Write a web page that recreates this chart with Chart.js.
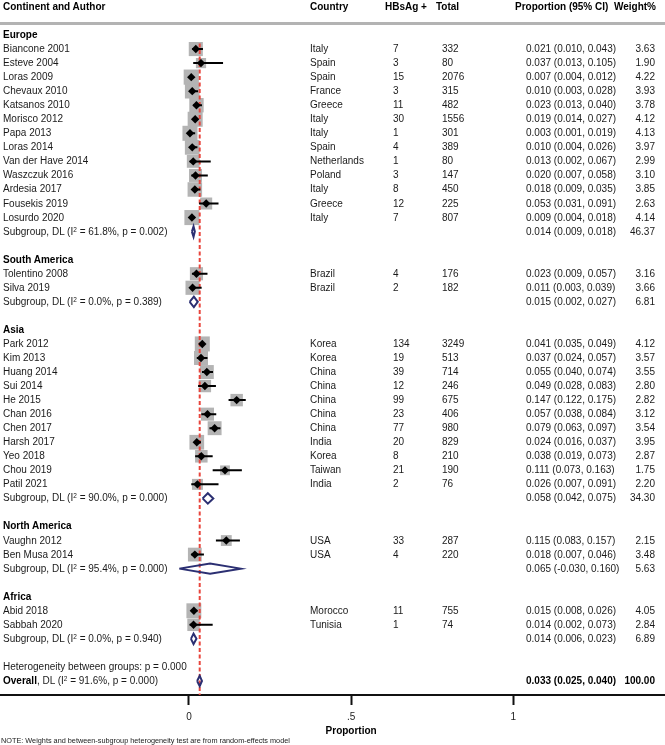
<!DOCTYPE html>
<html>
<head>
<meta charset="utf-8">
<script src="https://cdn.jsdelivr.net/npm/chart.js@4"></script>
<style>
body { margin: 0; background: #fff; }
#box {
	position: relative; width: 665px; height: 745px; overflow: hidden;
	font-family: "Liberation Sans", Arial, Helvetica, sans-serif;
	font-size: 10px; color: #1a1a1a;
}
#chart { position: absolute; left: 0; top: 0; }
#text { position: absolute; left: 0; top: 0; width: 665px; height: 745px; }
.cell { position: absolute; height: 14px; line-height: 14px; white-space: nowrap; }
.bold { font-weight: bold; color: #000; }
sup { font-size: 6.5px; vertical-align: 3px; line-height: 0; }
#rule { position: absolute; left: 0; top: 22px; width: 665px; height: 3px; background: #b3b3b3; }
#note { position: absolute; left: 1px; top: 736px; font-size: 7.3px; line-height: 9px; white-space: nowrap; }
</style>
</head>
<body>
<div id="box">
	<canvas id="chart" width="665" height="745"></canvas>
	<div id="rule"></div>
	<div id="text"></div>
	<div id="note">NOTE: Weights and between-subgroup heterogeneity test are from random-effects model</div>
</div>
<script>
/*
 * Studies, in the order they are listed, with the continent each belongs to.
 */
const groupNames = ['Europe', 'South America', 'Asia', 'North America', 'Africa'];
const studyGroup = [
	0, 0, 0, 0, 0, 0, 0, 0, 0, 0, 0, 0, 0,
	1, 1,
	2, 2, 2, 2, 2, 2, 2, 2, 2, 2, 2,
	3, 3,
	4, 4,
];
const authors = [
	'Biancone 2001', 'Esteve 2004', 'Loras 2009', 'Chevaux 2010',
	'Katsanos 2010', 'Morisco 2012', 'Papa 2013', 'Loras 2014',
	'Van der Have 2014', 'Waszczuk 2016', 'Ardesia 2017', 'Fousekis 2019',
	'Losurdo 2020',
	'Tolentino 2008', 'Silva 2019',
	'Park 2012', 'Kim 2013', 'Huang 2014', 'Sui 2014', 'He 2015',
	'Chan 2016', 'Chen 2017', 'Harsh 2017', 'Yeo 2018', 'Chou 2019',
	'Patil 2021',
	'Vaughn 2012', 'Ben Musa 2014',
	'Abid 2018', 'Sabbah 2020',
];
const countries = [
	'Italy', 'Spain', 'Spain', 'France', 'Greece', 'Italy', 'Italy', 'Spain',
	'Netherlands', 'Poland', 'Italy', 'Greece', 'Italy',
	'Brazil', 'Brazil',
	'Korea', 'Korea', 'China', 'China', 'China', 'China', 'China', 'India',
	'Korea', 'Taiwan', 'India',
	'USA', 'USA',
	'Morocco', 'Tunisia',
];
const positives = [
	7, 3, 15, 3, 11, 30, 1, 4, 1, 3, 8, 12, 7,
	4, 2,
	134, 19, 39, 12, 99, 23, 77, 20, 8, 21, 2,
	33, 4,
	11, 1,
];
const totals = [
	332, 80, 2076, 315, 482, 1556, 301, 389, 80, 147, 450, 225, 807,
	176, 182,
	3249, 513, 714, 246, 675, 406, 980, 829, 210, 190, 76,
	287, 220,
	755, 74,
];
const estimates = [
	0.021, 0.037, 0.007, 0.010, 0.023, 0.019, 0.003, 0.010, 0.013, 0.020,
	0.018, 0.053, 0.009,
	0.023, 0.011,
	0.041, 0.037, 0.055, 0.049, 0.147, 0.057, 0.079, 0.024, 0.038, 0.111,
	0.026,
	0.115, 0.018,
	0.015, 0.014,
];
const lower = [
	0.010, 0.013, 0.004, 0.003, 0.013, 0.014, 0.001, 0.004, 0.002, 0.007,
	0.009, 0.031, 0.004,
	0.009, 0.003,
	0.035, 0.024, 0.040, 0.028, 0.122, 0.038, 0.063, 0.016, 0.019, 0.073,
	0.007,
	0.083, 0.007,
	0.008, 0.002,
];
const upper = [
	0.043, 0.105, 0.012, 0.028, 0.040, 0.027, 0.019, 0.026, 0.067, 0.058,
	0.035, 0.091, 0.018,
	0.057, 0.039,
	0.049, 0.057, 0.074, 0.083, 0.175, 0.084, 0.097, 0.037, 0.073, 0.163,
	0.091,
	0.157, 0.046,
	0.026, 0.073,
];
const weights = [
	3.63, 1.90, 4.22, 3.93, 3.78, 4.12, 4.13, 3.97, 2.99, 3.10, 3.85, 2.63,
	4.14,
	3.16, 3.66,
	4.12, 3.57, 3.55, 2.80, 2.82, 3.12, 3.54, 3.95, 2.87, 1.75, 2.20,
	2.15, 3.48,
	4.05, 2.84,
];

/* Pooled estimates per continent and overall. */

const subgroupI2 = ['61.8', '0.0', '90.0', '95.4', '0.0'];
const subgroupP = ['0.002', '0.389', '0.000', '0.000', '0.940'];
const subgroupEst = [0.014, 0.015, 0.058, 0.065, 0.014];
const subgroupLo = [0.009, 0.002, 0.042, -0.030, 0.006];
const subgroupHi = [0.018, 0.027, 0.075, 0.160, 0.023];
const subgroupWeight = [46.37, 6.81, 34.30, 5.63, 6.89];

const overallEst = 0.033;
const overallLo = 0.025;
const overallHi = 0.040;
const overallWeight = 100.00;
const overallI2 = '91.6';
const overallP = '0.000';
const betweenP = '0.000';

const tickValues = [0, 0.5, 1];
const tickLabels = ['0', '.5', '1'];

const NAVY = '#2b2f72';
const DIAMOND_HALF = 0.37;	/* half height of a pooled diamond, in rows */
const BOX_SCALE = 7.4;		/* box side per sqrt(weight), pixels */

/**
 * Give every line of the plot a row number, top to bottom, leaving a blank
 * row after each continent.
 */
function layoutRows()
{
	const rows = [];
	let r = 0;
	groupNames.forEach((name, g) => {
		rows.push({ kind: 'group', g: g, r: r++ });
		studyGroup.forEach((sg, i) => {
			if (sg === g)
				rows.push({ kind: 'study', i: i, r: r++ });
		});
		rows.push({ kind: 'subgroup', g: g, r: r++ });
		r++;
	});
	rows.push({ kind: 'between', r: r++ });
	rows.push({ kind: 'overall', r: r++ });
	return rows;
}

function ci(est, lo, hi)
{
	return est.toFixed(3) + ' (' + lo.toFixed(3) + ', ' + hi.toFixed(3) + ')';
}

function diamond(pts, est, lo, hi, r)
{
	pts.push({ x: lo, y: r }, { x: est, y: r - DIAMOND_HALF },
		{ x: hi, y: r }, { x: est, y: r + DIAMOND_HALF },
		{ x: lo, y: r }, { x: null, y: null });
}

function cell(parent, html, left, top, cls, right)
{
	const el = document.createElement('div');
	el.className = 'cell' + (cls ? ' ' + cls : '');
	el.innerHTML = html;
	el.style.top = top + 'px';
	if (right)
		el.style.right = (665 - left) + 'px';
	else
		el.style.left = left + 'px';
	parent.append(el);
}

const rows = layoutRows();
const lastRow = rows[rows.length - 1].r;

/* Study boxes, markers and confidence intervals. */

const boxes = [];
const boxRadius = [];
const whiskers = [];
const diamonds = [];
for (const row of rows) {
	if (row.kind === 'study') {
		const i = row.i;
		boxes.push({ x: estimates[i], y: row.r });
		boxRadius.push(BOX_SCALE * Math.sqrt(weights[i]) / Math.SQRT2);
		whiskers.push({ x: lower[i], y: row.r }, { x: upper[i], y: row.r },
			{ x: null, y: null });
	} else if (row.kind === 'subgroup')
		diamond(diamonds, subgroupEst[row.g], subgroupLo[row.g],
			subgroupHi[row.g], row.r);
	else if (row.kind === 'overall')
		diamond(diamonds, overallEst, overallLo, overallHi, row.r);
}

const chart = new Chart(document.getElementById('chart'), {
	type: 'scatter',
	data: {
		datasets: [{
			data: boxes,
			pointStyle: 'rect',
			pointRadius: boxRadius,
			backgroundColor: '#b4b4b4',
			borderWidth: 0,
			order: 5,
		}, {
			data: [{ x: overallEst, y: 0.6 }, { x: overallEst, y: lastRow + 1 }],
			showLine: true,
			pointRadius: 0,
			borderColor: '#e8453c',
			borderWidth: 2,
			borderDash: [4, 2.5],
			order: 4,
		}, {
			data: whiskers,
			showLine: true,
			spanGaps: false,
			pointRadius: 0,
			borderColor: '#000',
			borderWidth: 2,
			order: 3,
		}, {
			data: boxes,
			pointStyle: 'rectRot',
			pointRadius: 4.2,
			backgroundColor: '#000',
			borderWidth: 0,
			order: 2,
		}, {
			data: diamonds,
			showLine: true,
			spanGaps: false,
			pointRadius: 0,
			borderColor: NAVY,
			borderWidth: 2,
			order: 1,
		}],
	},
	options: {
		responsive: false,
		animation: false,
		events: [],
		layout: { padding: 0, autoPadding: false },
		plugins: {
			legend: { display: false },
			tooltip: { enabled: false },
		},
		scales: {
			x: {
				type: 'linear',
				min: -0.5828,
				max: 1.4678,
				afterBuildTicks: (s) => {
					s.ticks = tickValues.map(v => ({ value: v }));
				},
				afterFit: (s) => { s.height = 50; },
				ticks: {
					color: '#222',
					font: { family: '"Liberation Sans", Arial, sans-serif', size: 10 },
					padding: 6,
					autoSkip: false,
					maxRotation: 0,
					callback: (v) => tickLabels[tickValues.indexOf(v)],
				},
				grid: {
					drawOnChartArea: false,
					drawTicks: true,
					tickLength: 10,
					tickWidth: 2,
					tickColor: '#111',
				},
				border: { display: true, color: '#111', width: 2 },
			},
			y: {
				type: 'linear',
				display: false,
				reverse: true,
				min: -2.4923,
				max: 46.999,
			},
		},
	},
});

/* Text columns, lined up with the rows of the y scale. */

const text = document.getElementById('text');
const ys = chart.scales.y;

cell(text, 'Continent and Author', 3, 0, 'bold');
cell(text, 'Country', 310, 0, 'bold');
cell(text, 'HBsAg +', 385, 0, 'bold');
cell(text, 'Total', 436, 0, 'bold');
cell(text, 'Proportion (95% CI)', 515, 0, 'bold');
cell(text, 'Weight%', 656, 0, 'bold', true);

for (const row of rows) {
	const top = ys.getPixelForValue(row.r) - 7;
	if (row.kind === 'group')
		cell(text, groupNames[row.g], 3, top, 'bold');
	else if (row.kind === 'study') {
		const i = row.i;
		cell(text, authors[i], 3, top);
		cell(text, countries[i], 310, top);
		cell(text, String(positives[i]), 393, top);
		cell(text, String(totals[i]), 442, top);
		cell(text, ci(estimates[i], lower[i], upper[i]), 526, top);
		cell(text, weights[i].toFixed(2), 655, top, '', true);
	} else if (row.kind === 'subgroup') {
		const g = row.g;
		cell(text, 'Subgroup, DL (I<sup>2</sup> = ' + subgroupI2[g] +
			'%, p = ' + subgroupP[g] + ')', 3, top);
		cell(text, ci(subgroupEst[g], subgroupLo[g], subgroupHi[g]), 526, top);
		cell(text, subgroupWeight[g].toFixed(2), 655, top, '', true);
	} else if (row.kind === 'between')
		cell(text, 'Heterogeneity between groups: p = ' + betweenP, 3, top);
	else {
		cell(text, '<b style="color:#000">Overall</b>, DL (I<sup>2</sup> = ' +
			overallI2 + '%, p = ' + overallP + ')', 3, top);
		cell(text, ci(overallEst, overallLo, overallHi), 526, top, 'bold');
		cell(text, overallWeight.toFixed(2), 655, top, 'bold', true);
	}
}

/* Axis title, centred on the middle tick. */

const title = document.createElement('div');
title.className = 'cell bold';
title.textContent = 'Proportion';
title.style.top = '724px';
title.style.left = (chart.scales.x.getPixelForValue(0.5) - 50) + 'px';
title.style.width = '100px';
title.style.textAlign = 'center';
text.append(title);
</script>
</body>
</html>
